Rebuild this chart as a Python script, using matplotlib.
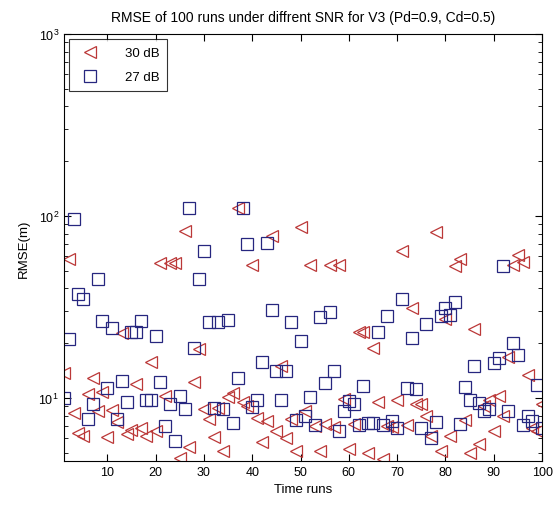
import matplotlib.pyplot as plt
import numpy as np

plt.rcParams['font.family'] = ['Liberation Sans', 'DejaVu Sans']

runs = np.arange(1, 101)

# 30 dB (red triangles)
rmse_30 = [13.7, 58, 8.3, 6.4, 6.2, 10.5, 12.9, 8.5, 10.8, 6.1,
           8.6, 7.4, 22.7, 6.3, 6.7, 11.9, 6.8, 6.2, 15.7, 6.6,
           55, 10.3, 55, 55, 4.7, 83, 5.4, 12.3, 18.5, 8.7,
           7.7, 6.1, 8.8, 5.1, 10.1, 10.7, 110, 9.5, 9.0, 54,
           7.8, 5.7, 7.45, 78, 6.6, 14.9, 6.0, 7.7, 5.1, 87,
           8.5, 54, 7.0, 5.1, 7.2, 54, 6.9, 54, 9.9, 5.25,
           7.2, 23, 23, 5.0, 18.7, 9.5, 4.6, 7.0, 6.9, 9.7,
           64, 7.1, 31, 9.2, 9.3, 8.0, 6.2, 82, 5.1, 27,
           6.15, 53, 58, 7.6, 5.0, 24, 5.6, 9.0, 9.7, 6.6,
           10.3, 7.9, 16.7, 54, 61, 56, 13.4, 6.8, 6.6, 9.3]

# 27 dB (blue squares)
rmse_27 = [10, 21, 96, 37, 35, 7.7, 9.2, 45, 26.4, 11.4,
           24.2, 7.7, 12.4, 9.5, 23, 23, 26.6, 9.7, 9.7, 22,
           12.2, 7.0, 9.2, 5.8, 10.2, 8.7, 110, 18.8, 45, 64,
           26, 8.8, 26, 8.7, 26.8, 7.3, 12.9, 110, 70, 8.9,
           9.7, 15.8, 71, 30.5, 14.1, 9.7, 14.1, 26, 7.6, 20.6,
           8.0, 10.1, 7.1, 27.8, 12.0, 29.6, 14.1, 6.6, 8.5, 9.6,
           9.3, 7.1, 11.6, 7.3, 7.3, 23, 7.1, 28, 7.5, 6.8,
           35, 11.4, 21.3, 11.2, 6.8, 25.5, 6.0, 7.4, 28, 31,
           28.6, 33.5, 7.2, 11.5, 9.7, 15, 9.4, 8.5, 8.7, 15.6,
           16.5, 53, 8.5, 20, 17.1, 7.1, 7.9, 7.5, 11.7, 6.8]

fig = plt.figure(figsize=(5.6, 5.06), dpi=100)
ax = fig.add_axes([0.114, 0.087, 0.854, 0.844])

ax.semilogy(runs, rmse_30, '<', color='#bb3838', mfc='none', ms=8, mew=0.9, label='30 dB')
ax.semilogy(runs, rmse_27, 's', color='#26267f', mfc='none', ms=8, mew=0.9, label='27 dB')

ax.set_xlim(1, 100)
ax.set_ylim(4.5, 1000)
ax.set_xticks(np.arange(10, 101, 10))
ax.tick_params(which='both', direction='in', top=True, right=True, labelsize=9)
ax.tick_params(which='major', length=5)
ax.tick_params(which='minor', length=3)

ax.set_title('RMSE of 100 runs under diffrent SNR for V3 (Pd=0.9, Cd=0.5)', fontsize=10, pad=9)
ax.set_xlabel('Time runs', fontsize=9.5)
ax.set_ylabel('RMSE(m)', fontsize=9.5, labelpad=6)

leg = ax.legend(loc='upper left', fontsize=9.5, fancybox=False, edgecolor='black',
                borderaxespad=0.4, borderpad=0.6, handletextpad=1.6, labelspacing=0.9)
leg.get_frame().set_linewidth(0.8)

fig.savefig('out.png', dpi=100)
